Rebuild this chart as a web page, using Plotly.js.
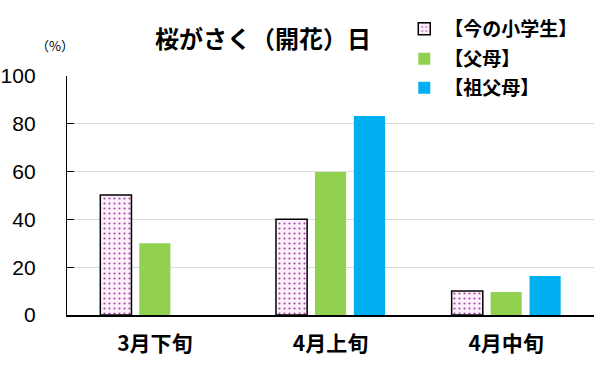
<!DOCTYPE html>
<html><head><meta charset="utf-8">
<script src="https://cdn.plot.ly/plotly-3.0.1.min.js"></script>
<style>html,body{margin:0;padding:0;background:#fff}</style>
</head><body><div id="chart" style="width:595px;height:392px"></div>
<script>
const categories = ['3月下旬', '4月上旬', '4月中旬'];
const seriesNames = ['【今の小学生】', '【父母】', '【祖父母】'];
const students = [50.2, 40.1, 10.0];
const parents = [30.0, 59.8, 9.6];
const grandparents = [0, 83.3, 16.3];
const yTicks = [0, 20, 40, 60, 80, 100];

const jp = '"Noto Sans CJK JP", "Noto Sans", sans-serif';
const num = '"Liberation Sans", Arial, sans-serif';

const traces = [
  {type:'bar', name:seriesNames[0], x:categories, y:students, legend:'legend',
   marker:{color:'#ffffff', line:{color:'#000000', width:1.5},
     pattern:{shape:'.', fgcolor:'#a04aa0', bgcolor:'#fdf0fc', size:5, solidity:0.15}}},
  {type:'bar', name:seriesNames[1], x:categories, y:parents, legend:'legend2',
   marker:{color:'#92d050'}},
  {type:'bar', name:seriesNames[2], x:categories, y:grandparents, legend:'legend3',
   marker:{color:'#00b0f0'}}
];

const legFont = {family: jp, size: 19, color:'#000', weight:'bold'};
function leg(y){ return {x:0.64, y:y, xanchor:'left', yanchor:'middle', bgcolor:'rgba(0,0,0,0)', font:legFont, itemclick:false}; }

const layout = {
  width:595, height:392,
  margin:{l:67, r:1, t:76, b:77},
  paper_bgcolor:'#fff', plot_bgcolor:'#fff',
  barmode:'group', bargap:0.335, bargroupgap:0.2,
  showlegend:true,
  legend: leg(1 + (76-29)/239),
  legend2: leg(1 + (76-59)/239),
  legend3: leg(1 + (76-88)/239),
  title:{text:'桜がさく（開花）日', x:0.442, xref:'container', xanchor:'center', y:1-40/392, yref:'container', yanchor:'middle',
    font:{family:jp, size:24, color:'#000', weight:'bold'}},
  xaxis:{type:'category', range:[-0.5, 2.5], showline:true, linecolor:'#000', linewidth:1.5,
    ticks:'', showgrid:false, tickfont:{family:jp, size:21, color:'#000', weight:'bold'}, ticklabelstandoff:9},
  yaxis:{range:[0,100], tickvals:yTicks, showline:true, linecolor:'#000', linewidth:1.2,
    ticks:'inside', ticklen:7, tickcolor:'#000', showgrid:true, gridcolor:'#d9d9d9', gridwidth:1.2,
    zeroline:false, tickfont:{family:num, size:21, color:'#000'}, ticklabelstandoff:26},
  annotations:[{text:'（%）', xref:'paper', yref:'paper', x:(55-67)/527, y:(315-45)/239, showarrow:false,
    xanchor:'center', yanchor:'middle', font:{family:jp, size:13, color:'#000'}}]
};
Plotly.newPlot('chart', traces, layout, {displayModeBar:false, staticPlot:true});
</script></body></html>
